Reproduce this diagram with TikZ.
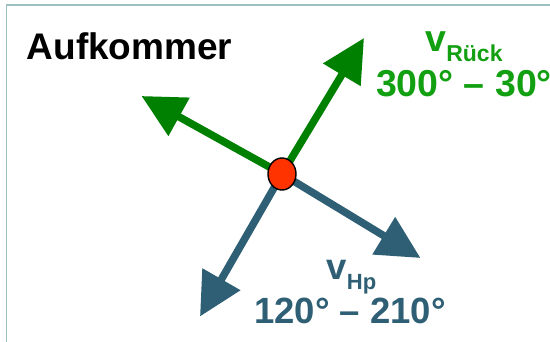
\documentclass[tikz,border=0pt]{standalone}
\usepackage{fontspec}
\setmainfont{Liberation Sans}
\usetikzlibrary{arrows.meta,shapes.geometric}
\definecolor{arrgreen}{HTML}{008000}
\definecolor{txtgreen}{HTML}{12A012}
\definecolor{hpblue}{HTML}{2E5F74}
\definecolor{dotred}{HTML}{FF3300}
\definecolor{framec}{HTML}{9CC0C0}
\tikzset{
  vec/.style={line width=7.5pt, -{Triangle[length=43pt,width=42pt]}},
  lbl/.style={inner sep=0pt, anchor=base}
}
\begin{document}
\begin{tikzpicture}[x=1pt,y=-1pt]
\useasboundingbox (0,0) rectangle (550,342);
\draw[framec, line width=1.4pt] (6.7,360) -- (6.7,5) -- (570,5);
\node[lbl, anchor=base west, font=\bfseries\fontsize{37}{40}\selectfont] (title) at (26.5,59.5) {Aufkommer};
\coordinate (c) at (282,174);
\coordinate (tUR) at (364,38);
\coordinate (tUL) at (141.5,96);
\coordinate (tDR) at (420.5,258);
\coordinate (tDL) at (200,316.5);
\draw[vec, arrgreen] (c) -- (tUR);
\draw[vec, arrgreen] (c) -- (tUL);
\draw[vec, hpblue] (c) -- (tDR);
\draw[vec, hpblue] (c) -- (tDL);
\node[draw=black, fill=dotred, line width=1.4pt, ellipse, minimum width=28pt, minimum height=32pt, inner sep=0pt] (dot) at (c) {};
\node[lbl, txtgreen, font=\bfseries\fontsize{37.5}{40}\selectfont] (vr) at (464,51.7) {v\raisebox{-9.5pt}{\fontsize{23}{24}\selectfont Rück}};
\node[lbl, txtgreen, font=\bfseries\fontsize{37.5}{40}\selectfont] (ar) at (464,96.3) {300° – 30°};
\node[lbl, hpblue, font=\bfseries\fontsize{36.5}{40}\selectfont] (vh) at (351.5,279.3) {v\raisebox{-10.5pt}{\fontsize{22}{24}\selectfont Hp}};
\node[lbl, hpblue, font=\bfseries\fontsize{36.5}{40}\selectfont] (ah) at (350,323.3) {120° – 210°};
\end{tikzpicture}
\end{document}
